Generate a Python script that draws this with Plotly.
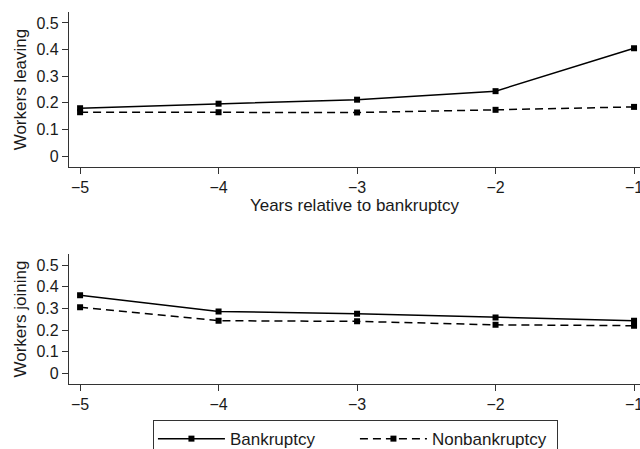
import plotly.graph_objects as go
from plotly.subplots import make_subplots

years = [-5, -4, -3, -2, -1]
leaving_bankrupt = [0.180, 0.197, 0.212, 0.244, 0.405]
leaving_nonbankrupt = [0.165, 0.165, 0.164, 0.174, 0.185]
joining_bankrupt = [0.361, 0.286, 0.275, 0.258, 0.243]
joining_nonbankrupt = [0.305, 0.243, 0.240, 0.224, 0.220]
y_ticks = [0, 0.1, 0.2, 0.3, 0.4, 0.5]
y_ticktext = ["0", "0.1", "0.2", "0.3", "0.4", "0.5"]

FONT = "Liberation Sans, Arial, sans-serif"
INK = "#1a1a1a"

fig = make_subplots(rows=2, cols=1, vertical_spacing=0.0)

solid = dict(color="black", width=1.5)
dashed = dict(color="black", width=1.5, dash="8px,5px")
mk = dict(symbol="square", size=6, color="black")

fig.add_trace(go.Scatter(x=years, y=leaving_bankrupt, mode="lines+markers", line=solid, marker=mk,
                         name="Bankruptcy", legendgroup="b", showlegend=True), row=1, col=1)
fig.add_trace(go.Scatter(x=years, y=leaving_nonbankrupt, mode="lines+markers", line=dashed, marker=mk,
                         name="Nonbankruptcy", legendgroup="n", showlegend=True), row=1, col=1)
fig.add_trace(go.Scatter(x=years, y=joining_bankrupt, mode="lines+markers", line=solid, marker=mk,
                         name="Bankruptcy", legendgroup="b", showlegend=False), row=2, col=1)
fig.add_trace(go.Scatter(x=years, y=joining_nonbankrupt, mode="lines+markers", line=dashed, marker=mk,
                         name="Nonbankruptcy", legendgroup="n", showlegend=False), row=2, col=1)

axis_common = dict(showline=True, linecolor="#333", linewidth=1.2, ticks="outside", ticklen=6,
                   tickcolor="#333", showgrid=False, zeroline=False, mirror=False,
                   tickfont=dict(family=FONT, size=16, color=INK))

fig.update_xaxes(axis_common, tickvals=years, range=[-5.08, -0.957], ticklabeloverflow="allow")
fig.update_yaxes(axis_common, tickvals=y_ticks, ticktext=y_ticktext)

title_font = dict(family=FONT, size=17, color=INK)
fig.update_layout(
    xaxis=dict(domain=[0, 1], title=dict(text="Years relative to bankruptcy", standoff=3, font=title_font)),
    xaxis2=dict(domain=[0, 1]),
    yaxis=dict(domain=[0.583, 1.0], range=[-0.041, 0.541],
               title=dict(text="Workers leaving", standoff=5, font=title_font)),
    yaxis2=dict(domain=[0.0, 0.349], range=[-0.049, 0.55],
                title=dict(text="Workers joining", standoff=5, font=title_font)),
    width=640, height=449,
    margin=dict(l=69, r=0, t=12, b=65, autoexpand=False),
    plot_bgcolor="white", paper_bgcolor="white",
    showlegend=True,
    legend=dict(orientation="h", x=0.147, xanchor="left", y=-0.097, yanchor="top",
                bordercolor="#333", borderwidth=1, bgcolor="white",
                font=dict(family=FONT, size=17, color=INK),
                entrywidth=120, itemwidth=67, tracegroupgap=0),
)

fig.write_html("out.html", config={"displayModeBar": False},
               post_script="document.body.style.margin='0';document.body.style.overflow='hidden';")
